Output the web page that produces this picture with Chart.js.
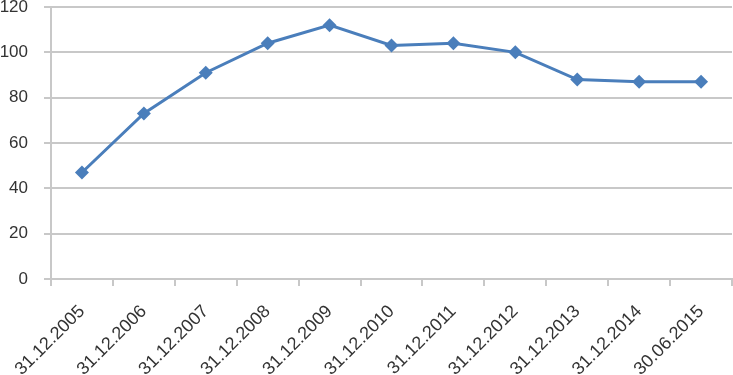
<!DOCTYPE html>
<html>
<head>
<meta charset="utf-8">
<script src="https://cdn.jsdelivr.net/npm/chart.js@4/dist/chart.umd.min.js"></script>
<style>
html,body{margin:0;padding:0;background:#fff;}
#wrap{width:733px;height:375px;position:relative;}
</style>
</head>
<body>
<div id="wrap"><canvas id="c"></canvas></div>
<script>
const categories = ["31.12.2005","31.12.2006","31.12.2007","31.12.2008","31.12.2009","31.12.2010","31.12.2011","31.12.2012","31.12.2013","31.12.2014","30.06.2015"];
const values = [47, 73, 91, 104, 112, 103, 104, 100, 88, 87, 87];
const yMin = 0, yMax = 120, yStep = 20;

const textColor = '#333333';
const gridColor = '#c8c8c8';
const lineColor = '#4a7ebb';

new Chart(document.getElementById('c'), {
  type: 'line',
  data: {
    labels: categories,
    datasets: [{
      data: values,
      borderColor: lineColor,
      backgroundColor: lineColor,
      borderWidth: 3,
      pointStyle: 'rectRot',
      pointRadius: 7,
      pointHoverRadius: 7,
      pointBackgroundColor: lineColor,
      pointBorderColor: lineColor,
      pointBorderWidth: 0,
      tension: 0,
      fill: false
    }]
  },
  options: {
    responsive: true,
    maintainAspectRatio: false,
    animation: false,
    layout: { autoPadding: false, padding: { top: 0, right: 1, left: 0, bottom: 0 } },
    plugins: { legend: { display: false }, tooltip: { enabled: false } },
    scales: {
      x: {
        offset: true,
        grid: { offset: true, drawOnChartArea: false, drawTicks: true, tickLength: 7, color: gridColor, lineWidth: 2 },
        border: { display: true, color: gridColor, width: 2 },
        ticks: {
          autoSkip: false, minRotation: 45, maxRotation: 45, padding: 15,
          color: textColor, font: { family: 'Liberation Sans', size: 18 }
        },
        afterFit: function(s) { s.height = 96; s.paddingLeft = 0; s.paddingRight = 0; }
      },
      y: {
        min: yMin, max: yMax,
        ticks: { stepSize: yStep, padding: 16, color: textColor, font: { family: 'Liberation Sans', size: 17 } },
        grid: { color: gridColor, lineWidth: 2, tickLength: 7, drawTicks: true },
        border: { display: true, color: gridColor, width: 2 },
        afterFit: function(s) { s.width = 51; s.paddingTop = 7; s.paddingBottom = 0; }
      }
    }
  }
});
</script>
</body>
</html>
